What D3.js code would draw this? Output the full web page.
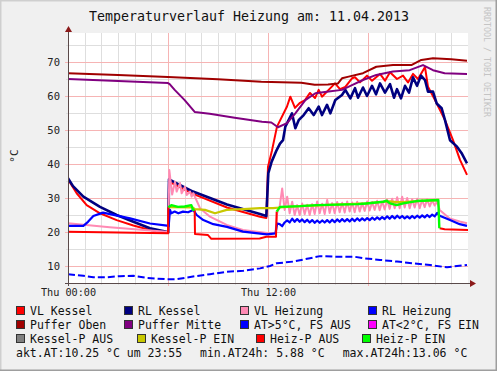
<!DOCTYPE html>
<html>
<head>
<meta charset="utf-8">
<script src="https://cdn.jsdelivr.net/npm/d3@7"></script>
<style>
    body { margin: 0; background: #f0f0f0; }
    svg text { font-family: "DejaVu Sans Mono", monospace; }
</style>
</head>
<body>
<svg id="chart" width="497" height="371"></svg>
<script>
// values, time in hours since Thu 00:00, temperatures in °C
const xTicks = [0, 12];
const xTickLabels = ["Thu 00:00", "Thu 12:00"];
const yTicks = [10, 20, 30, 40, 50, 60, 70];

const vlKessel = [[0,35.5],[0.52,31.4],[1.12,27.9],[1.92,25.5],[2.92,23.5],[3.92,21.9],[4.92,20.6],[5.92,19.8],[6.02,19.8],
    [6.06,34.8],[7.5,31.2],[9.54,27.2],[11.52,24.5],[11.9,24.1],[12.0,39.2],[12.24,44],[12.54,51],[13.14,56.9],[13.34,59.8],
    [13.62,56.5],[13.92,58],[14.22,58.8],[14.52,60.9],[14.82,59.4],[15.04,61.8],[15.24,59.8],[15.64,61.8],[16.02,63.7],
    [16.32,62],[16.64,62.7],[17.04,65.2],[17.22,65.5],[17.52,64],[17.94,66],[18.24,64.5],[18.72,66.5],[19.02,64.5],
    [19.32,67],[19.74,65],[20.1,66],[20.4,64],[20.7,66.5],[21.0,65],[21.42,68.5],[21.6,62.7],[22.02,58.8],[22.32,55.9],
    [22.62,52.9],[23.1,47],[23.52,41.2],[23.94,36.8]];

const rlKessel = [[0,35.8],[0.3,33.5],[0.92,30.4],[1.92,27.4],[2.92,25],[3.92,23],[4.92,21.1],[5.92,20.1],[6.02,19.9],
    [6.06,35.5],[7.5,31.9],[9.54,28.1],[11.52,25.3],[11.9,24.7],[12.02,37.3],[12.22,40.7],[12.52,44.1],[12.72,46],[12.9,47],
    [13.04,51],[13.44,54.9],[13.64,50.5],[13.84,52.9],[14.14,54.4],[14.44,56.4],[14.74,54.4],[15.04,56.9],[15.24,54.4],
    [15.54,57.4],[15.74,54.9],[16.04,58.8],[16.44,60.3],[16.64,61.8],[16.94,59.3],[17.22,62.3],[17.4,59.5],[17.7,62.5],
    [17.94,60],[18.24,63],[18.48,60.5],[18.72,63.7],[19.02,61],[19.32,63.5],[19.56,59.5],[19.74,62],[19.98,59.3],[20.22,63],
    [20.46,61],[20.7,65.5],[20.94,63],[21.18,66],[21.42,64.7],[21.6,61.3],[21.9,61.3],[22.12,57.8],[22.42,56.4],[22.62,52.9],
    [22.92,47],[23.34,45.1],[23.64,43],[23.94,40.2]];

// sample hours of the pump cycling period (12:42 .. 22:09)
const hoursOsc = [12.7,12.85,13,13.15,13.3,13.45,13.6,13.75,13.9,14.05,14.2,14.35,14.5,14.65,14.8,14.95,15.1,15.25,15.4,
    15.55,15.7,15.85,16,16.15,16.3,16.45,16.6,16.75,16.9,17.05,17.2,17.35,17.5,17.65,17.8,17.95,18.1,18.25,18.4,18.55,18.7,
    18.85,19,19.15,19.3,19.45,19.6,19.75,19.9,20.05,20.2,20.35,20.5,20.65,20.8,20.95,21.1,21.25,21.4,21.55,21.7,21.85,22,22.15];

const vlHeizungStart = [[0,22.6],[2.5,21.4],[5.9,20.1],[6.02,19.8],[6.08,38.2],[6.25,31],[6.42,34.8],[6.52,31.9],[6.72,34.4],
    [6.82,31.4],[7.02,33.3],[7.12,30.9],[7.32,31.9],[7.42,30.4],[7.52,31.4],[7.92,27],[8.52,24.5],[9.52,22.1],[10.5,20.6],
    [11.94,19.7],[12.45,19.6],[12.55,25.6]];
const vlHeizungOsc = [27.5,32.8,26.5,30.4,25.5,28.9,25.0,27.9,25.0,28.4,25.2,28.0,25.0,28.2,25.3,29.0,25.5,28.3,25.3,29.4,
    25.6,28.5,25.5,28.8,25.8,28.6,25.7,29.0,26.0,28.7,25.8,28.9,26.0,28.5,26.2,29.0,26.3,28.8,26.5,29.2,26.4,29.0,26.6,29.5,
    26.8,29.8,27.0,30.2,27.0,30.4,27.2,30.0,27.0,29.6,27.2,29.8,27.0,29.4,27.3,29.6,27.5,29.3,27.8,29.0];
const vlHeizungEnd = [[22.3,26.5],[22.9,24.0],[23.5,23.1],[23.94,22.6]];

const rlHeizungStart = [[0,21.8],[0.92,21.8],[1.2,23],[1.52,24.7],[2.1,25.7],[3.72,24],[4.92,22.5],[5.94,21.9],[6.04,21.7],
    [6.12,26.5],[6.2,25.5],[6.4,26],[6.62,25.5],[6.9,26],[7.2,25.8],[7.52,26.5],[7.72,25],[8.12,23.5],[8.72,22.3],[9.54,21.5],
    [10.5,20.1],[11.94,19.3],[12.45,19.6],[12.55,22.5]];
const rlHeizungOsc = [22.3,21.7,22.8,23.4,22.8,23.9,23.0,23.8,23.0,23.7,22.9,23.6,22.8,23.5,22.7,23.4,22.7,23.4,22.8,23.5,
    22.8,23.6,22.9,23.7,23.0,23.8,23.1,23.8,23.1,23.9,23.2,24.0,23.3,24.0,23.4,24.1,23.5,24.2,23.6,24.3,23.7,24.4,23.8,24.6,
    23.9,24.7,24.0,24.8,24.1,24.7,24.0,24.6,24.0,24.7,24.1,24.8,24.2,24.9,24.3,25.0,24.4,25.1,24.6,25.6];
const rlHeizungEnd = [[22.3,24.8],[22.92,23.5],[23.5,22.3],[23.94,21.8]];

const pufferOben = [[0,66.7],[3,66.2],[6,65.6],[9,64.9],[11.6,64.2],[14,63.9],[14.8,63.3],[15.6,63.4],[16.2,63.7],[16.44,65.2],
    [16.84,65.7],[17.7,66.7],[18.5,68.6],[19.5,69.1],[20.6,69.1],[21.2,70.6],[21.9,71.1],[23,70.8],[23.94,70.4]];

const pufferMitte = [[0,65],[6.0,63.8],[6.1,63.5],[6.4,61.8],[7.0,58.8],[7.6,55.3],[8.5,54.8],[10,53.6],[11.64,52.4],[12.2,52.2],
    [12.6,50.8],[13.14,52],[13.64,54.9],[14.24,58.8],[14.84,60.8],[15.64,61.3],[16.44,61.8],[17.04,63.2],[17.7,64.7],[18.5,66.2],
    [19.5,67.2],[20.5,67.6],[21.3,69.1],[21.9,67.6],[22.6,66.7],[23.94,66.5]];

const aussenTemp = [[0,7.6],[0.92,7.1],[1.52,6.7],[2.32,6.7],[3.12,7.0],[3.92,7.1],[4.72,6.5],[5.92,6.1],[6.5,6.1],[7.5,6.9],
    [8.52,7.6],[9.52,8.3],[10.52,8.6],[11.52,9.3],[12.12,10],[12.52,10.8],[13.52,11.3],[14.52,12.3],[15.12,12.9],[16.32,12.7],
    [17.22,12.7],[17.7,12.3],[18.72,11.8],[19.74,11.3],[20.7,10.8],[21.72,10.3],[22.74,9.6],[23.34,10],[23.94,10.3]];
const aussenTempKalt = [];

const kesselPAus = [];
const kesselPEin = [[6.04,27.3],[7.5,27.2],[7.62,26.7],[8.22,26.5],[8.82,25.5],[9.52,26.5],[10.52,26.7],[11.52,27],[12.3,27],
    [12.72,27.2],[13.92,27.6],[17.9,28.4],[18.92,28.9],[19.3,29.0],[19.72,28.8],[20.12,28.8],[20.92,29.1],[22.22,29.4]];
const heizPAus = [[0,20.1],[6.0,19.6],[6.02,27.3], null,
    [7.6,26.5],[7.62,19.4],[8.4,19.1],[8.6,18.0],[11.5,18.1],[11.9,18.6],[12.48,18.6],[12.52,26.0], null,
    [22.3,21.1],[22.6,20.8],[24,20.6]];
const heizPEin = [[6.02,27.3],[6.2,27.9],[6.6,27.4],[7.0,27.5],[7.4,27.9],[7.5,26.5],[7.6,26.5], null,
    [12.52,26.0],[12.72,27.4],[13.92,27.6],[14.92,27.9],[17.4,28.2],[17.9,28.4],[18.92,28.9],[19.12,29.2],[19.32,28.4],
    [19.72,27.9],[20.12,28.4],[20.92,29.1],[22.22,29.4],[22.28,21.1]];

const legendNames = ["VL Kessel", "RL Kessel", "VL Heizung", "RL Heizung", "Puffer Oben", "Puffer Mitte",
    "AT>5°C, FS AUS", "AT<2°C, FS EIN", "Kessel-P AUS", "Kessel-P EIN", "Heiz-P AUS", "Heiz-P EIN"];
const legendColors = ["#ff0000", "#000080", "#ff8ab4", "#0000ff", "#a00000", "#800080",
    "#0000ff", "#ff00ff", "#808080", "#c8c800", "#ff0000", "#00ff00"];
const infoTexts = ["akt.AT:10.25 °C um 23:55", "min.AT24h: 5.88 °C", "max.AT24h:13.06 °C"];

const zipOsc = vals => hoursOsc.map((h, i) => [h, vals[i]]);
const vlHeizung = vlHeizungStart.concat(zipOsc(vlHeizungOsc), vlHeizungEnd);
const rlHeizung = rlHeizungStart.concat(zipOsc(rlHeizungOsc), rlHeizungEnd);

const W = 497, H = 371;
const pLeft = 68, pRight = 468, pTop = 33, pBottom = 283;

const svg = d3.select("#chart");
const x = d3.scaleLinear().domain([0, 24]).range([pLeft, pRight]);
const y = d3.scaleLinear().domain([5, 5 + 250 / 3.4]).range([pBottom, pTop]);

// frame
svg.append("rect").attr("width", W).attr("height", H).attr("fill", "#f0f0f0");
svg.append("path").attr("d", `M0,${H} V0 H${W}`).attr("stroke", "#cfcfcf").attr("stroke-width", 3).attr("fill", "none");
svg.append("path").attr("d", `M0,${H} H${W} V0`).attr("stroke", "#9e9e9e").attr("stroke-width", 3).attr("fill", "none");
svg.append("rect").attr("x", pLeft).attr("y", pTop).attr("width", pRight - pLeft).attr("height", pBottom - pTop).attr("fill", "#fff");

// grid
const g = svg.append("g").attr("shape-rendering", "crispEdges");
const hours = d3.range(1, 24);
const minorV = [15, 25, 35, 45, 55, 65, 75];
g.selectAll(".vmin").data(hours.filter(h => h % 6)).enter().append("line")
    .attr("x1", d => Math.round(x(d)) + 0.5).attr("x2", d => Math.round(x(d)) + 0.5)
    .attr("y1", pTop).attr("y2", pBottom + 2).attr("stroke", "#dedede");
g.selectAll(".hmin").data(minorV).enter().append("line")
    .attr("y1", d => Math.round(y(d)) + 0.5).attr("y2", d => Math.round(y(d)) + 0.5)
    .attr("x1", pLeft - 2).attr("x2", pRight).attr("stroke", "#dedede");
g.selectAll(".vmaj").data([6, 12, 18]).enter().append("line")
    .attr("x1", d => Math.round(x(d)) + 0.5).attr("x2", d => Math.round(x(d)) + 0.5)
    .attr("y1", pTop).attr("y2", pBottom + 3).attr("stroke", "#f6b4b4");
g.selectAll(".hmaj").data(yTicks).enter().append("line")
    .attr("y1", d => Math.round(y(d)) + 0.5).attr("y2", d => Math.round(y(d)) + 0.5)
    .attr("x1", pLeft - 3).attr("x2", pRight).attr("stroke", "#f6b4b4");

// lines
svg.append("clipPath").attr("id", "clip").append("rect")
    .attr("x", pLeft).attr("y", pTop).attr("width", pRight - pLeft).attr("height", pBottom - pTop);
const line = d3.line().defined(d => d).x(d => x(d[0])).y(d => y(d[1]));
const plot = svg.append("g").attr("clip-path", "url(#clip)").attr("fill", "none")
    .attr("stroke-linejoin", "round");

const drawn = [
    [vlKessel, 0, 2], [rlKessel, 1, 2.6], [vlHeizung, 2, 2], [rlHeizung, 3, 2.2], [pufferOben, 4, 2], [pufferMitte, 5, 2],
    [aussenTemp, 6, 2, "7,3"], [aussenTempKalt, 7, 2, "7,3"], [kesselPAus, 8, 2], [kesselPEin, 9, 2.2],
    [heizPAus, 10, 2], [heizPEin, 11, 2.4]
];
drawn.forEach(([data, ci, w, dash]) => {
    if (!data.length) return;
    plot.append("path").attr("d", line(data)).attr("stroke", legendColors[ci])
        .attr("stroke-width", w).attr("stroke-dasharray", dash || null);
});

// axes
svg.append("line").attr("x1", pLeft - 3).attr("x2", pRight + 3).attr("y1", pBottom + 0.5).attr("y2", pBottom + 0.5)
    .attr("stroke", "#5a4a4a").attr("shape-rendering", "crispEdges");
svg.append("line").attr("x1", pLeft + 0.5).attr("x2", pLeft + 0.5).attr("y1", pBottom + 3).attr("y2", pTop - 3)
    .attr("stroke", "#5a4a4a").attr("shape-rendering", "crispEdges");
svg.append("path").attr("d", `M${pRight + 2},${pBottom - 3} L${pRight + 8},${pBottom + 0.5} L${pRight + 2},${pBottom + 4} Z`).attr("fill", "#8b1a1a");
svg.append("path").attr("d", `M${pLeft - 3},${pTop - 1} L${pLeft + 0.5},${pTop - 7} L${pLeft + 4},${pTop - 1} Z`).attr("fill", "#8b1a1a");

const yAxis = svg.append("g").attr("transform", `translate(${pLeft},0)`)
    .call(d3.axisLeft(y).tickValues(yTicks).tickSize(0).tickPadding(8));
yAxis.select(".domain").remove();
yAxis.selectAll("text").attr("font-family", "DejaVu Sans Mono").attr("font-size", "10.5px").attr("fill", "#222");

const xAxis = svg.append("g").attr("transform", `translate(0,${pBottom})`)
    .call(d3.axisBottom(x).tickValues(xTicks).tickFormat((d, i) => xTickLabels[i]).tickSize(0).tickPadding(6));
xAxis.select(".domain").remove();
xAxis.selectAll("text").attr("font-family", "DejaVu Sans Mono").attr("font-size", "10.2px").attr("fill", "#222");

// titles
svg.append("text").attr("x", 249).attr("y", 21).attr("text-anchor", "middle")
    .attr("font-size", "13.3px").attr("fill", "#111").text("Temperaturverlauf Heizung am: 11.04.2013");
svg.append("text").attr("transform", "translate(18,156) rotate(-90)").attr("text-anchor", "middle")
    .attr("font-size", "11px").attr("fill", "#222").text("°C");
svg.append("text").attr("transform", "translate(484,7) rotate(90)")
    .attr("font-size", "8.3px").attr("fill", "#c4c4c4").text("RRDTOOL / TOBI OETIKER");

// legend
const legendX = [16, 124, 240, 368, 16, 124, 240, 368, 16, 137, 256, 362];
const legendY = [315, 315, 315, 315, 329, 329, 329, 329, 343, 343, 343, 343];
const leg = svg.append("g");
legendNames.forEach((name, i) => {
    leg.append("rect").attr("x", legendX[i] + 0.5).attr("y", legendY[i] - 8.5).attr("width", 8).attr("height", 8)
        .attr("fill", legendColors[i]).attr("stroke", "#333").attr("shape-rendering", "crispEdges");
    leg.append("text").attr("x", legendX[i] + 14).attr("y", legendY[i])
        .attr("font-size", "11.5px").attr("fill", "#111").text(name);
});
[16, 200, 342.7].forEach((px, i) => {
    leg.append("text").attr("x", px).attr("y", 357).attr("font-size", "11.5px").attr("fill", "#111").text(infoTexts[i]);
});
</script>
</body>
</html>
